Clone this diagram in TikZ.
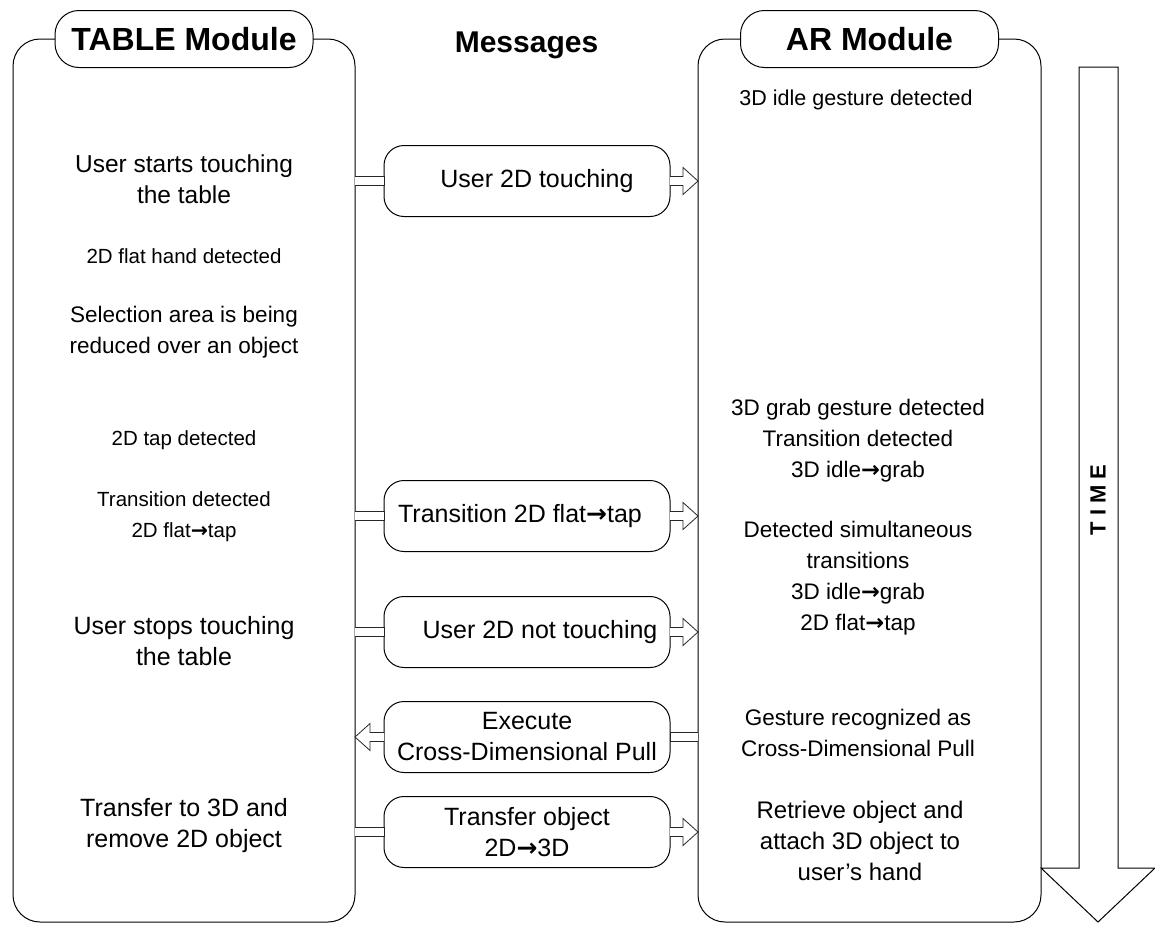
\documentclass[tikz,border=0pt]{standalone}
\usepackage{fontspec}
\setmainfont{Liberation Sans}
\newfontfamily\arrowfont{DejaVu Sans}
\usetikzlibrary{calc}
\newcommand\myarr{{\arrowfont\bfseries →}}
\newcommand\msgright[1]{%
  \coordinate (a) at (L.east |- #1.west);
  \coordinate (b) at (#1.west);
  \coordinate (c) at (#1.east);
  \coordinate (d) at (R.west |- #1.east);
  \draw[hollow] ($(a)+(0,-4.5)$) -- ($(b)+(0,-4.5)$) -- ($(b)+(0,4.5)$) -- ($(a)+(0,4.5)$);
  \draw[hollow] ($(c)+(0,-4.5)$) -- ($(d)+(-15,-4.5)$) -- ($(d)+(-15,-13.5)$) -- (d) -- ($(d)+(-15,13.5)$) -- ($(d)+(-15,4.5)$) -- ($(c)+(0,4.5)$);
}
\newcommand\msgleft[1]{%
  \coordinate (a) at (R.west |- #1.east);
  \coordinate (b) at (#1.east);
  \coordinate (c) at (#1.west);
  \coordinate (d) at (L.east |- #1.west);
  \draw[hollow] ($(a)+(0,-4.5)$) -- ($(b)+(0,-4.5)$) -- ($(b)+(0,4.5)$) -- ($(a)+(0,4.5)$);
  \draw[hollow] ($(c)+(0,-4.5)$) -- ($(d)+(15,-4.5)$) -- ($(d)+(15,-13.5)$) -- (d) -- ($(d)+(15,13.5)$) -- ($(d)+(15,4.5)$) -- ($(c)+(0,4.5)$);
}
\begin{document}
\begin{tikzpicture}[x=1pt,y=-1pt, line width=1pt,
  txt/.style={align=center, font=\fontsize{#1}{31}\selectfont, inner sep=0},
  txt/.default=22,
  hdr/.style={draw, fill=white, rounded corners=24pt, minimum width=258pt, minimum height=57pt, font=\fontsize{32}{32}\selectfont\bfseries, inner sep=0, outer sep=0},
  module/.style={draw, rounded corners=27pt, minimum width=342pt, minimum height=883pt, anchor=north west, inner sep=0, outer sep=0},
  msg/.style={draw, fill=white, rounded corners=20pt, minimum width=286pt, minimum height=71pt, inner sep=0, outer sep=0, align=center, font=\fontsize{25}{31}\selectfont},
  hollow/.style={draw=black!85, fill=white, line width=0.8pt, line join=miter}]
\useasboundingbox (0,0) rectangle (1155,924);
% module frames
\node[module] (L) at (13,39) {};
\node[module, minimum width=343pt] (R) at (698,39) {};
% headers
\node[hdr] (Lh) at (L.north) {TABLE Module};
\node[hdr] (Rh) at (R.north) {AR Module};
\node[font=\fontsize{30}{30}\selectfont\bfseries, inner sep=0] (mh) at (526.5,45) {Messages};
% time arrow
\draw (1079,67) -- (1079,868) -- (1041,868) -- (1098,922) -- (1155,868) -- (1118,868) -- (1118,67) -- cycle;
\node[rotate=90, font=\fontsize{22}{22}\selectfont\bfseries, inner sep=0] (time) at (1098,500) {T I M E};
% messages
\node[msg] (m1) at (527,181) {\hspace*{20pt}User 2D touching};
\node[msg] (m2) at (527,516) {Transition 2D flat\myarr tap\hspace*{14pt}};
\node[msg] (m3) at (527,632) {\hspace*{26pt}User 2D not touching};
\node[msg] (m4) at (527,737) {Execute\\Cross-Dimensional Pull};
\node[msg] (m5) at (527,832) {Transfer object\\2D\myarr 3D};
\msgright{m1}
\msgright{m2}
\msgright{m3}
\msgleft{m4}
\msgright{m5}
% TABLE module texts
\node[txt=24.5] (t1) at (184,179) {User starts touching\\the table};
\node[txt=20.5] (t2) at (184,256) {2D flat hand detected};
\node[txt=22.5] (t3) at (184,332) {Selection area is being\\reduced over an object};
\node[txt=20.5] (t4) at (184,440) {2D tap detected};
\node[txt=20.5] (t5) at (184,517) {Transition detected\\2D flat\myarr tap};
\node[txt=25] (t6) at (184,641) {User stops touching\\the table};
\node[txt=25] (t7) at (184,826) {Transfer to 3D and\\remove 2D object};
% AR module texts
\node[txt=21.5] (a1) at (856,100) {3D idle gesture detected};
\node[txt=22.5] (a2) at (858,441) {3D grab gesture detected\\Transition detected\\3D idle\myarr grab};
\node[txt=22.5] (a3) at (858,578) {Detected simultaneous\\transitions\\3D idle\myarr grab\\2D flat\myarr tap};
\node[txt=22.5] (a4) at (858,733) {Gesture recognized as\\Cross-Dimensional Pull};
\node[txt=24] (a5) at (860,841) {Retrieve object and\\attach 3D object to\\user’s hand};
\end{tikzpicture}
\end{document}
